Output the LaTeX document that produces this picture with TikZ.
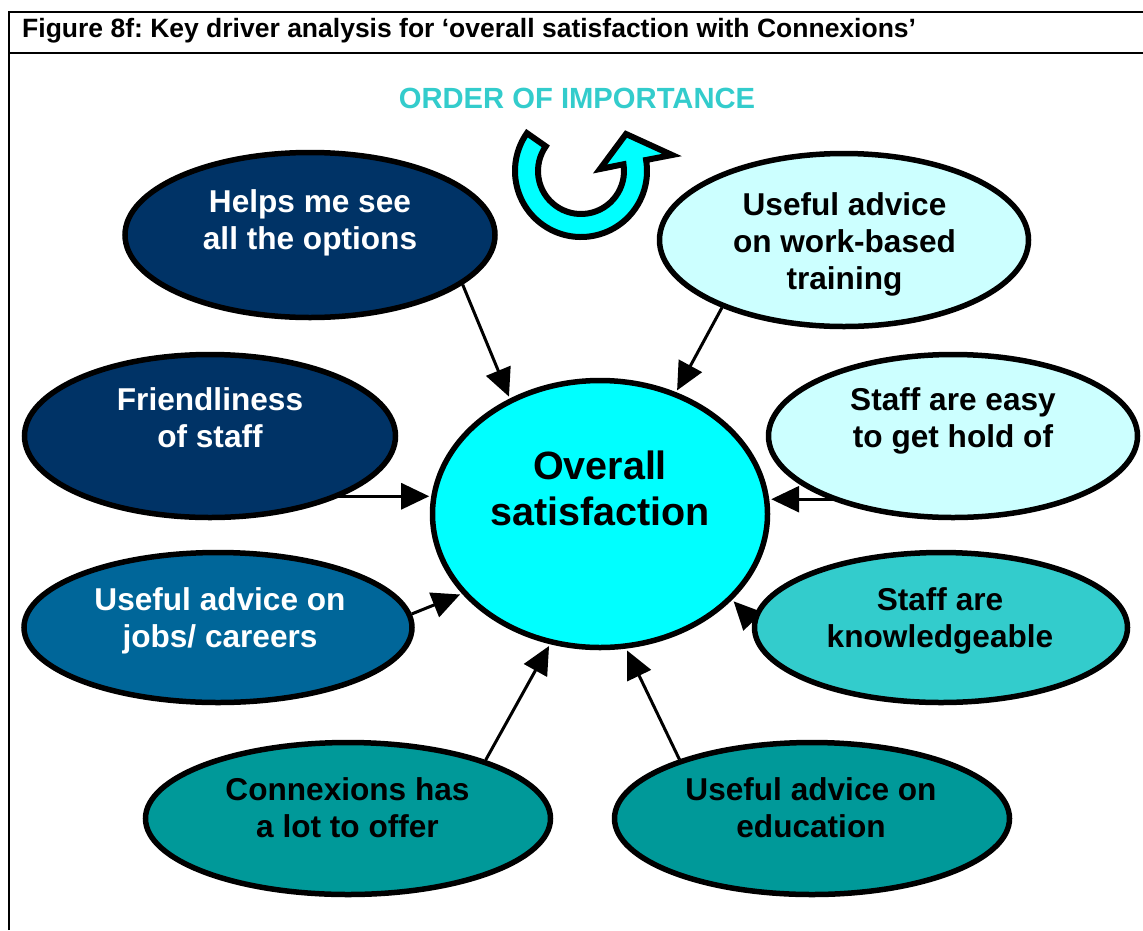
\documentclass[tikz,border=0pt]{standalone}
\usepackage{fontspec}
\setmainfont{Liberation Sans}
\usetikzlibrary{arrows.meta,backgrounds,shapes.geometric}
\definecolor{navy}{HTML}{003366}
\definecolor{ocean}{HTML}{006699}
\definecolor{pale}{HTML}{CCFFFF}
\definecolor{aqua}{HTML}{33CCCC}
\definecolor{deepteal}{HTML}{009999}
\definecolor{core}{HTML}{00FFFF}
\frenchspacing
\begin{document}
\begin{tikzpicture}[x=1pt,y=1pt,
  bubble/.style={ellipse, draw=black, line width=5.5pt, inner sep=0pt},
  lbl/.style={anchor=north, align=center, inner sep=0pt,
    font=\fontsize{31.6}{37}\selectfont\bfseries},
  arr/.style={line width=3pt, shorten >=2pt,
    -{Triangle[length=28pt,width=26pt]}},
  frame/.style={line width=2pt}
]
\useasboundingbox (0,0) rectangle (1143,-930);

% frame and heading
\draw[frame] (8.5,-930) -- (8.5,-11.5) -- (1143,-11.5);
\draw[frame] (8.5,-52.5) -- (1143,-52.5);
\node[anchor=base west, inner sep=0pt, font=\fontsize{26.5}{30}\selectfont\bfseries]
  (title) at (22,-37) {Figure 8f: Key driver analysis for ‘overall satisfaction with Connexions’};

\node[anchor=base, inner sep=0pt, text=aqua, font=\fontsize{29.2}{33}\selectfont\bfseries]
  (order) at (577,-108.5) {ORDER OF IMPORTANCE};

% turning arrow
\begin{scope}[shift={(581,-171)}]
  \draw[line width=6pt, fill=core, line join=miter, miter limit=10]
    (145:66) arc[start angle=145, end angle=369.6, radius=66]
    -- (91,16) -- (45,37) -- (19,2) -- (9:43)
    arc[start angle=369, end angle=145, radius=43] -- cycle;
\end{scope}

% central driver
\node[bubble, fill=core, minimum width=335pt, minimum height=267pt] (sat) at (600,-514) {};
\node[lbl, font=\fontsize{39.5}{46}\selectfont\bfseries] (satt) at (600,-450.5) {Overall\\satisfaction};

% surrounding drivers
\node[bubble, fill=navy, minimum width=370pt, minimum height=165pt] (help) at (310,-235) {};
\node[lbl, text=white] (helpt) at (310,-189.3) {Helps me see\\all the options};

\node[bubble, fill=pale, minimum width=369pt, minimum height=173pt] (work) at (844,-240) {};
\node[lbl] (workt) at (844.5,-192.3) {Useful advice\\on work-based\\training};

\node[bubble, fill=navy, minimum width=371pt, minimum height=163pt] (fr) at (210,-436) {};
\node[lbl, text=white] (frt) at (210,-387.3) {Friendliness\\of staff};

\node[bubble, fill=pale, minimum width=369pt, minimum height=163pt] (easy) at (953,-436) {};
\node[lbl] (easyt) at (953,-387.3) {Staff are easy\\to get hold of};

\node[bubble, fill=ocean, minimum width=388pt, minimum height=150pt] (jobs) at (218,-627.5) {};
\node[lbl, text=white] (jobst) at (220,-587.3) {Useful advice on\\jobs/ careers};

\node[bubble, fill=aqua, minimum width=373pt, minimum height=150pt] (know) at (941,-627.5) {};
\node[lbl] (knowt) at (940,-587.3) {Staff are\\knowledgeable};

\node[bubble, fill=deepteal, minimum width=405pt, minimum height=152pt] (conn) at (348,-818.5) {};
\node[lbl] (connt) at (347.5,-777.3) {Connexions has\\a lot to offer};

\node[bubble, fill=deepteal, minimum width=395pt, minimum height=152pt] (edu) at (812,-818.5) {};
\node[lbl] (edut) at (811,-777.3) {Useful advice on\\education};

% influence arrows, tucked beneath the bubbles
\begin{pgfonlayer}{background}
  \draw[arr] (help.-18.6) -- (sat.128.7);
  \draw[arr] (work.209) -- (sat.58.9);
  \draw[arr] (sat.174.3 -| fr.center) -- (sat.174.3);
  \draw[arr] (sat.5.7 -| easy.center) -- (sat.5.7);
  \draw[arr] (jobs.4.5) -- (sat.210);
  \draw[arr] (know.178) -- (sat.-33.5);
  \draw[arr] (conn.23) -- (sat.249.8);
  \draw[arr] (edu.156.6) -- (sat.-79.9);
\end{pgfonlayer}
\end{tikzpicture}
\end{document}
